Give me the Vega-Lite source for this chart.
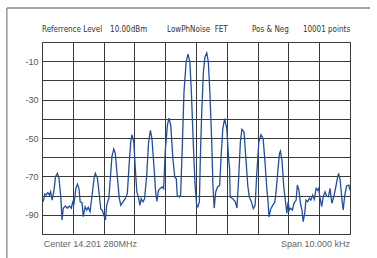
{
  "$schema": "https://vega.github.io/schema/vega-lite/v6.json",
  "width": 308,
  "height": 192,
  "autosize": {"type": "none"},
  "padding": {"left": 42, "top": 42, "right": 27, "bottom": 24},
  "background": "#ffffff",
  "config": {
    "view": {"stroke": "#3a3a3a", "strokeWidth": 1},
    "axis": {"gridColor": "#3a3a3a", "gridOpacity": 1, "gridWidth": 1, "domain": false, "ticks": false}
  },
  "datasets": {
    "trace": [
      {"f": -4.96, "dbm": -83.2}, {"f": -4.91, "dbm": -79.2}, {"f": -4.87, "dbm": -79.7}, {"f": -4.81, "dbm": -78.5},
      {"f": -4.76, "dbm": -79.7}, {"f": -4.72, "dbm": -78.0}, {"f": -4.67, "dbm": -82.3}, {"f": -4.61, "dbm": -77.1},
      {"f": -4.56, "dbm": -70.2}, {"f": -4.50, "dbm": -68.4}, {"f": -4.45, "dbm": -70.8}, {"f": -4.39, "dbm": -80.6},
      {"f": -4.35, "dbm": -92.7}, {"f": -4.31, "dbm": -86.6}, {"f": -4.24, "dbm": -85.4}, {"f": -4.18, "dbm": -86.6},
      {"f": -4.11, "dbm": -85.4}, {"f": -4.05, "dbm": -86.6}, {"f": -4.00, "dbm": -83.2}, {"f": -3.96, "dbm": -84.0},
      {"f": -3.90, "dbm": -76.2}, {"f": -3.85, "dbm": -74.0}, {"f": -3.80, "dbm": -76.2}, {"f": -3.76, "dbm": -83.2},
      {"f": -3.70, "dbm": -83.7}, {"f": -3.66, "dbm": -91.0}, {"f": -3.60, "dbm": -85.8}, {"f": -3.55, "dbm": -87.5},
      {"f": -3.50, "dbm": -86.1}, {"f": -3.44, "dbm": -88.4}, {"f": -3.38, "dbm": -80.6}, {"f": -3.31, "dbm": -71.0},
      {"f": -3.27, "dbm": -68.4}, {"f": -3.20, "dbm": -71.0}, {"f": -3.14, "dbm": -79.7}, {"f": -3.09, "dbm": -87.1},
      {"f": -3.05, "dbm": -87.5}, {"f": -3.01, "dbm": -89.2}, {"f": -2.94, "dbm": -92.7}, {"f": -2.90, "dbm": -84.9},
      {"f": -2.83, "dbm": -81.4}, {"f": -2.77, "dbm": -68.4}, {"f": -2.73, "dbm": -59.7}, {"f": -2.67, "dbm": -55.7},
      {"f": -2.62, "dbm": -58.0}, {"f": -2.56, "dbm": -69.3}, {"f": -2.49, "dbm": -81.4}, {"f": -2.44, "dbm": -85.1},
      {"f": -2.37, "dbm": -83.3}, {"f": -2.30, "dbm": -81.6}, {"f": -2.23, "dbm": -79.0}, {"f": -2.18, "dbm": -66.0},
      {"f": -2.12, "dbm": -52.1}, {"f": -2.08, "dbm": -48.3}, {"f": -2.02, "dbm": -52.1}, {"f": -1.97, "dbm": -66.0},
      {"f": -1.92, "dbm": -78.1}, {"f": -1.86, "dbm": -81.6}, {"f": -1.82, "dbm": -85.1}, {"f": -1.78, "dbm": -81.6},
      {"f": -1.72, "dbm": -83.3}, {"f": -1.67, "dbm": -81.6}, {"f": -1.60, "dbm": -69.4}, {"f": -1.54, "dbm": -52.1},
      {"f": -1.48, "dbm": -46.0}, {"f": -1.43, "dbm": -50.4}, {"f": -1.36, "dbm": -66.0}, {"f": -1.31, "dbm": -78.1},
      {"f": -1.27, "dbm": -83.0}, {"f": -1.22, "dbm": -77.2}, {"f": -1.17, "dbm": -76.4}, {"f": -1.10, "dbm": -75.5},
      {"f": -1.05, "dbm": -76.4}, {"f": -1.00, "dbm": -57.3}, {"f": -0.93, "dbm": -43.4}, {"f": -0.88, "dbm": -39.6},
      {"f": -0.82, "dbm": -43.4}, {"f": -0.75, "dbm": -60.8}, {"f": -0.69, "dbm": -70.3}, {"f": -0.64, "dbm": -71.2},
      {"f": -0.61, "dbm": -79.8}, {"f": -0.54, "dbm": -80.7}, {"f": -0.50, "dbm": -79.8}, {"f": -0.44, "dbm": -52.1},
      {"f": -0.39, "dbm": -26.0}, {"f": -0.32, "dbm": -10.4}, {"f": -0.26, "dbm": -6.3}, {"f": -0.20, "dbm": -10.4},
      {"f": -0.15, "dbm": -26.0}, {"f": -0.09, "dbm": -52.1}, {"f": -0.03, "dbm": -74.6}, {"f": 0.02, "dbm": -84.7},
      {"f": 0.06, "dbm": -85.9}, {"f": 0.11, "dbm": -83.3}, {"f": 0.14, "dbm": -60.8}, {"f": 0.19, "dbm": -34.7},
      {"f": 0.24, "dbm": -15.6}, {"f": 0.29, "dbm": -7.8}, {"f": 0.35, "dbm": -5.7}, {"f": 0.40, "dbm": -10.4},
      {"f": 0.45, "dbm": -26.0}, {"f": 0.51, "dbm": -52.1}, {"f": 0.55, "dbm": -74.6}, {"f": 0.59, "dbm": -86.5},
      {"f": 0.64, "dbm": -78.1}, {"f": 0.70, "dbm": -75.5}, {"f": 0.77, "dbm": -74.6}, {"f": 0.81, "dbm": -60.8},
      {"f": 0.87, "dbm": -45.2}, {"f": 0.93, "dbm": -39.9}, {"f": 1.00, "dbm": -45.2}, {"f": 1.06, "dbm": -60.8},
      {"f": 1.09, "dbm": -66.0}, {"f": 1.11, "dbm": -80.7}, {"f": 1.19, "dbm": -81.6}, {"f": 1.27, "dbm": -83.0},
      {"f": 1.33, "dbm": -86.5}, {"f": 1.39, "dbm": -69.4}, {"f": 1.44, "dbm": -52.1}, {"f": 1.49, "dbm": -45.5},
      {"f": 1.56, "dbm": -46.9}, {"f": 1.62, "dbm": -60.8}, {"f": 1.68, "dbm": -74.6}, {"f": 1.73, "dbm": -80.7},
      {"f": 1.80, "dbm": -83.3}, {"f": 1.86, "dbm": -86.8}, {"f": 1.92, "dbm": -85.1}, {"f": 1.97, "dbm": -69.4},
      {"f": 2.04, "dbm": -52.1}, {"f": 2.11, "dbm": -48.3}, {"f": 2.18, "dbm": -50.4}, {"f": 2.24, "dbm": -62.5},
      {"f": 2.30, "dbm": -76.4}, {"f": 2.34, "dbm": -83.3}, {"f": 2.37, "dbm": -91.1}, {"f": 2.43, "dbm": -86.8},
      {"f": 2.49, "dbm": -85.1}, {"f": 2.56, "dbm": -83.3}, {"f": 2.60, "dbm": -78.0}, {"f": 2.66, "dbm": -66.7},
      {"f": 2.71, "dbm": -58.0}, {"f": 2.74, "dbm": -56.8}, {"f": 2.79, "dbm": -61.5}, {"f": 2.85, "dbm": -75.4},
      {"f": 2.90, "dbm": -82.3}, {"f": 2.95, "dbm": -89.2}, {"f": 2.99, "dbm": -83.2}, {"f": 3.03, "dbm": -87.5},
      {"f": 3.07, "dbm": -86.6}, {"f": 3.13, "dbm": -87.5}, {"f": 3.18, "dbm": -84.0}, {"f": 3.25, "dbm": -82.3},
      {"f": 3.29, "dbm": -74.5}, {"f": 3.34, "dbm": -77.1}, {"f": 3.40, "dbm": -84.9}, {"f": 3.44, "dbm": -87.5},
      {"f": 3.48, "dbm": -93.6}, {"f": 3.53, "dbm": -89.2}, {"f": 3.57, "dbm": -82.3}, {"f": 3.63, "dbm": -83.2},
      {"f": 3.68, "dbm": -81.4}, {"f": 3.73, "dbm": -82.3}, {"f": 3.79, "dbm": -79.7}, {"f": 3.84, "dbm": -81.9},
      {"f": 3.90, "dbm": -76.2}, {"f": 3.94, "dbm": -77.1}, {"f": 3.98, "dbm": -76.2}, {"f": 4.03, "dbm": -81.4},
      {"f": 4.08, "dbm": -85.8}, {"f": 4.13, "dbm": -80.6}, {"f": 4.19, "dbm": -78.0}, {"f": 4.24, "dbm": -80.2},
      {"f": 4.30, "dbm": -80.6}, {"f": 4.35, "dbm": -76.2}, {"f": 4.41, "dbm": -84.0}, {"f": 4.46, "dbm": -81.4},
      {"f": 4.52, "dbm": -77.1}, {"f": 4.59, "dbm": -71.0}, {"f": 4.63, "dbm": -68.4}, {"f": 4.68, "dbm": -71.9},
      {"f": 4.74, "dbm": -82.3}, {"f": 4.78, "dbm": -87.5}, {"f": 4.83, "dbm": -79.7}, {"f": 4.89, "dbm": -75.0},
      {"f": 4.96, "dbm": -74.5}, {"f": 5.00, "dbm": -77.1}
    ],
    "header": [
      {"f": -5.0, "dbm": 6.3, "label": "Referrence Level"},
      {"f": -2.79, "dbm": 6.3, "label": "10.00dBm"},
      {"f": -0.94, "dbm": 6.3, "label": "LowPhNoise\u00a0 FET"},
      {"f": 1.82, "dbm": 6.3, "label": "Pos & Neg"},
      {"f": 3.47, "dbm": 6.3, "label": "10001 points"}
    ],
    "footerLeft": [
      {"f": -4.94, "dbm": -105.4, "label": "Center 14.201 280MHz"}
    ],
    "footerRight": [
      {"f": 5.0, "dbm": -105.4, "label": "Span 10.000 kHz"}
    ],
    "frame": [
      {"f": -6.14, "dbm": 17.7, "f2": -6.14, "dbm2": -115},
      {"f": -6.14, "dbm": 17.7, "f2": 5.65, "dbm2": 17.7}
    ]
  },
  "encoding": {
    "x": {"field": "f", "type": "quantitative", "scale": {"domain": [-5, 5], "nice": false},
          "axis": {"values": [-5, -4, -3, -2, -1, 0, 1, 2, 3, 4, 5], "labels": false, "title": null, "grid": true}},
    "y": {"field": "dbm", "type": "quantitative", "scale": {"domain": [-100, 0], "nice": false, "zero": false},
          "axis": {"values": [-100, -90, -80, -70, -60, -50, -40, -30, -20, -10, 0], "title": null, "grid": true,
                   "labelExpr": "datum.value % 20 != 0 ? '-' + abs(datum.value) : ''",
                   "labelFont": "Liberation Sans", "labelFontSize": 9, "labelColor": "#555555", "labelPadding": 4}}
  },
  "layer": [
    {
      "data": {"name": "frame"},
      "mark": {"type": "rule", "color": "#8a8a8a", "strokeWidth": 1.3},
      "encoding": {
        "x2": {"field": "f2"},
        "y2": {"field": "dbm2"}
      }
    },
    {
      "data": {"name": "trace"},
      "mark": {"type": "line", "color": "#1f4ea6", "strokeWidth": 1.3},
      "encoding": {}
    },
    {
      "data": {"name": "header"},
      "mark": {"type": "text", "align": "left", "baseline": "middle", "font": "DejaVu Sans Condensed", "fontSize": 8, "color": "#333333"},
      "encoding": {"text": {"field": "label"}}
    },
    {
      "data": {"name": "footerLeft"},
      "mark": {"type": "text", "align": "left", "baseline": "middle", "font": "Liberation Sans", "fontSize": 9, "color": "#666666"},
      "encoding": {"text": {"field": "label"}}
    },
    {
      "data": {"name": "footerRight"},
      "mark": {"type": "text", "align": "right", "baseline": "middle", "font": "Liberation Sans", "fontSize": 9, "color": "#666666"},
      "encoding": {"text": {"field": "label"}}
    }
  ]
}
